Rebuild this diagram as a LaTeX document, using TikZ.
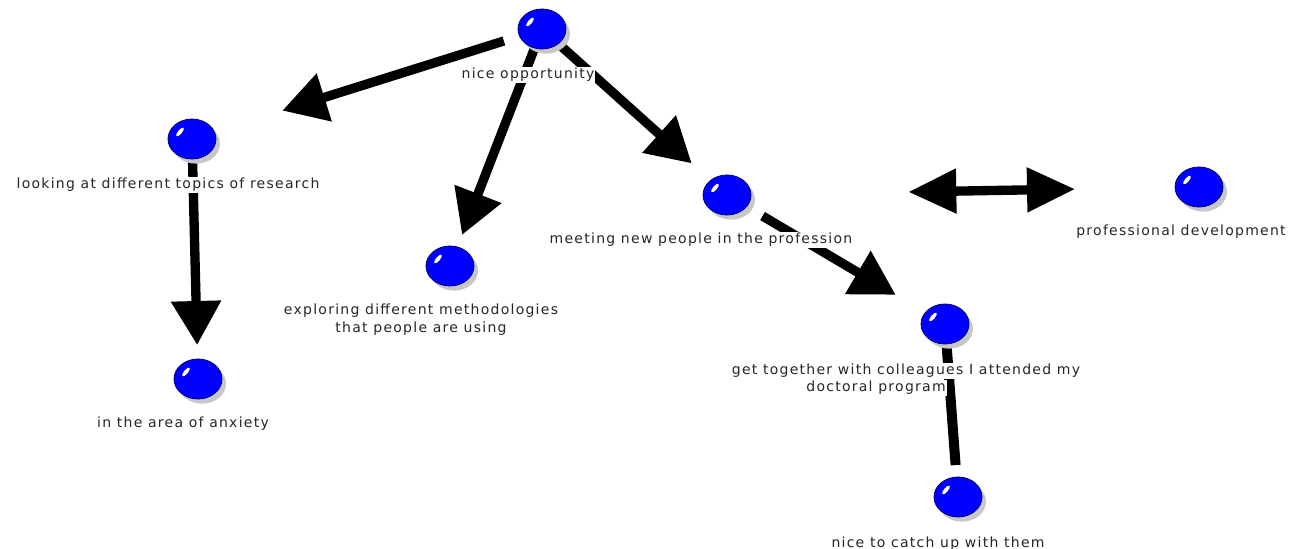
\documentclass[tikz,border=0pt]{standalone}
\usepackage{fontspec}
\usepackage{tikz}
\usetikzlibrary{arrows.meta,shapes.geometric,shadows,backgrounds}
\newfontfamily\lblfont{DejaVu Sans}[LetterSpace=9.0]

\tikzset{
  ball/.style={ellipse, minimum width=36pt, minimum height=30pt, inner sep=0pt,
    fill={rgb, 255:red, 0; green, 0; blue, 255}, draw=blue!45!black, line width=0.6pt,
    drop shadow={shadow xshift=3pt, shadow yshift=-3.5pt, fill=black!22, opacity=1},
    path picture={\fill[white] ([shift={(-12,7)}]path picture bounding box.center) ellipse [x radius=2, y radius=5.5, rotate=-40];}},
  lbl/.style={fill=white, inner sep=0.75pt, text=black!85, align=center,
    font=\lblfont\fontsize{10.5pt}{13.5pt}\selectfont},
  bigarrow/.style={line width=7pt, -{Triangle[length=33pt,width=36pt]}},
}

\begin{document}
\begin{tikzpicture}[x=0.75pt,y=0.75pt,yscale=-1]
\useasboundingbox (0,0) rectangle (1293,549);

%Shape: Balls
\node[ball] (opp) at (542,29) {};
\node[ball] (topics) at (192,139) {};
\node[ball] (anxiety) at (198,379) {};
\node[ball] (methods) at (450,266) {};
\node[ball] (meeting) at (727,195) {};
\node[ball] (profdev) at (1199,187) {};
\node[ball] (colleagues) at (945,324) {};
\node[ball] (catchup) at (958,497) {};

\begin{pgfonlayer}{background}
% Connection
\draw[bigarrow, shorten <=30pt, shorten >=71pt] (opp.center) -- (topics.center);
% Connection
\draw[bigarrow, shorten <=15pt, shorten >=25pt] (opp.center) -- (methods.center);
% Connection
\draw[bigarrow, shorten <=15pt, shorten >=35.5pt] (opp.center) -- (meeting.center);
% Connection
\draw[bigarrow, shorten <=15pt, shorten >=25.5pt] (topics.center) -- (anxiety.center);
% Connection
\draw[bigarrow, shorten <=31pt, shorten >=43pt] (meeting.center) -- (colleagues.center);
% Connection
\draw[line width=7pt, {Triangle[length=36pt,width=32pt]}-{Triangle[length=36pt,width=32pt]}, shorten <=136pt, shorten >=93pt] (meeting.center) -- (profdev.center);
% Connection
\draw[line width=7.5pt, shorten <=15pt, shorten >=24pt] (colleagues.center) -- (catchup.center);
\end{pgfonlayer}

% Text Node
\node[lbl] (opplbl) at (528,75) {nice opportunity};
% Text Node
\node[lbl] (topicslbl) at (168,185) {looking at different topics of research};
% Text Node
\node[lbl] (anxietylbl) at (183,424) {in the area of anxiety};
% Text Node
\node[lbl] (methodslbl) at (421,320) {exploring different methodologies\\that people are using};
% Text Node
\node[lbl] (meetinglbl) at (701,240) {meeting new people in the profession};
% Text Node
\node[lbl] (profdevlbl) at (1181,232) {professional development};
% Text Node
\node[lbl] (colleagueslbl) at (906,371) {get together with colleagues I attended my};
% Text Node
\node[lbl] (programlbl) at (876,388) {doctoral program};
% Text Node
\node[lbl] (catchuplbl) at (938,544) {nice to catch up with them};

\end{tikzpicture}
\end{document}
